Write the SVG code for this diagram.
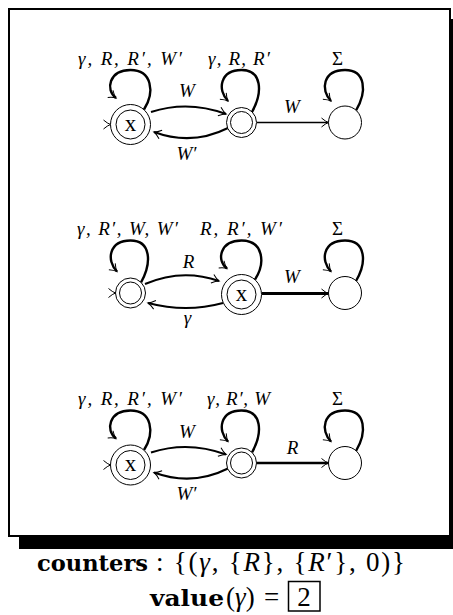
<svg xmlns="http://www.w3.org/2000/svg" width="453" height="615" viewBox="0 0 453 615">
<style>
.st{fill:#fff;stroke:#000;stroke-width:1}
.loop{fill:none;stroke:#000;stroke-width:2.4;marker-end:url(#ah)}
.ed{fill:none;stroke:#000;stroke-width:2;marker-end:url(#ah)}
.tip{fill:none;stroke:#000;stroke-width:1}
.lb{font-family:"Liberation Serif","DejaVu Serif",serif;font-style:italic;font-size:19px;fill:#000}
.up{font-family:"Liberation Serif","DejaVu Serif",serif;font-size:19px;fill:#000}
.xl{font-family:"Liberation Serif","DejaVu Serif",serif;font-size:23px;fill:#000}
.bb{font-family:"DejaVu Serif","Liberation Serif",serif;font-weight:bold;font-size:23px;fill:#000}
.mr{font-family:"Liberation Serif","DejaVu Serif",serif;font-size:27px;fill:#000}
.mi{font-style:italic}
</style>
<defs>
<marker id="ah" markerUnits="userSpaceOnUse" viewBox="-8 -6 10 12" markerWidth="10" markerHeight="12" refX="0" refY="0" orient="auto">
<path d="M-7,-4.5 Q-3,-1 0,0 Q-3,1 -7,4.5" fill="none" stroke="#000" stroke-width="1"/>
</marker>
</defs>
<g id="frame">
<rect x="19" y="537" width="434" height="12" fill="#000"/>
<rect x="451" y="19" width="10" height="530" fill="#000"/>
<rect x="9" y="9" width="441" height="527" fill="#fff" stroke="#000" stroke-width="2"/>
</g>
<g id="connectors">
<path class="loop" d="M144,109.5 C155,92 152,70 130.5,70 C109,70 105,90 116,98"/>
<path class="loop" d="M252,112 C263,92 262,70 241.5,70 C220,70 217,90 228,101"/>
<path class="loop" d="M356,110.5 C367,92 366,70 345,70 C323,70 320,90 331,101"/>
<path class="ed" d="M151,112 Q188,100 226,114"/>
<path class="ed" d="M228,128 Q192,146 154,132"/>
<path class="ed" style="stroke-width:1.4" d="M257,122.5 L328.5,122.5"/>
<path class="tip" d="M103.5,120 Q107.5,123.5 110.5,124.5 Q107.5,125.5 103.5,129"/>
<path class="loop" d="M141,282.5 C152,262.5 151,240.5 130.5,240.5 C109,240.5 106,260.5 117,271.5"/>
<path class="loop" d="M255,279.5 C266,262.5 263,240.5 241.5,240.5 C220,240.5 216,260.5 227,268.5"/>
<path class="loop" d="M356,281 C367,262.5 366,240.5 345,240.5 C323,240.5 320,260.5 331,271.5"/>
<path class="ed" d="M145,284 Q182,268 219,281"/>
<path class="ed" d="M223,303 Q186,313 148,303"/>
<path class="ed" style="stroke-width:2.8" d="M262,293.5 L328.5,293.5"/>
<path class="tip" d="M108.5,288.5 Q112.5,292 115.5,293 Q112.5,294 108.5,297.5"/>
<path class="loop" d="M144,450 C155,432.5 152,410.5 130.5,410.5 C109,410.5 105,430.5 116,438.5"/>
<path class="loop" d="M252,452.5 C263,432.5 262,410.5 241.5,410.5 C220,410.5 217,430.5 228,441.5"/>
<path class="loop" d="M356,451 C367,432.5 366,410.5 345,410.5 C323,410.5 320,430.5 331,441.5"/>
<path class="ed" d="M151,452.5 Q188,440.5 226,454.5"/>
<path class="ed" d="M228,468.5 Q192,486.5 154,472.5"/>
<path class="ed" style="stroke-width:2.6" d="M257,463 L328.5,463"/>
<path class="tip" d="M103.5,460.5 Q107.5,464 110.5,465 Q107.5,466 103.5,469.5"/>
</g>
<g id="r1n1"><circle class="st" cx="130.5" cy="124.5" r="20"/><circle class="st" cx="130.5" cy="124.5" r="14.5"/><text class="xl" x="130.5" y="130.5" text-anchor="middle">x</text></g>
<g id="r1n2"><circle class="st" cx="241.5" cy="122.5" r="15"/><circle class="st" cx="241.5" cy="122.5" r="11"/></g>
<g id="r1n3"><circle class="st" cx="345" cy="122.5" r="16.5"/></g>
<g id="r2n1"><circle class="st" cx="130.5" cy="293" r="15"/><circle class="st" cx="130.5" cy="293" r="11"/></g>
<g id="r2n2"><circle class="st" cx="241.5" cy="294.5" r="20"/><circle class="st" cx="241.5" cy="294.5" r="14.5"/><text class="xl" x="241.5" y="300.5" text-anchor="middle">x</text></g>
<g id="r2n3"><circle class="st" cx="345" cy="293" r="16.5"/></g>
<g id="r3n1"><circle class="st" cx="130.5" cy="465" r="20"/><circle class="st" cx="130.5" cy="465" r="14.5"/><text class="xl" x="130.5" y="471" text-anchor="middle">x</text></g>
<g id="r3n2"><circle class="st" cx="241.5" cy="463" r="15"/><circle class="st" cx="241.5" cy="463" r="11"/></g>
<g id="r3n3"><circle class="st" cx="345" cy="463" r="16.5"/></g>
<g id="labels">
<text class="lb" x="78" y="65" textLength="104" lengthAdjust="spacing">γ, R, R′, W′</text>
<text class="lb" x="208" y="65" textLength="62" lengthAdjust="spacing">γ, R, R′</text>
<text class="up" x="337.5" y="65" text-anchor="middle">Σ</text>
<text class="lb" x="187" y="97" text-anchor="middle">W</text>
<text class="lb" x="186.5" y="160" text-anchor="middle">W′</text>
<text class="lb" x="292" y="113" text-anchor="middle">W</text>
<text class="lb" x="77" y="235" textLength="101" lengthAdjust="spacing">γ, R′, W, W′</text>
<text class="lb" x="200" y="235" textLength="82" lengthAdjust="spacing">R, R′, W′</text>
<text class="up" x="337.5" y="235" text-anchor="middle">Σ</text>
<text class="lb" x="188.5" y="268" text-anchor="middle">R</text>
<text class="lb" x="187.5" y="324" text-anchor="middle">γ</text>
<text class="lb" x="292" y="283" text-anchor="middle">W</text>
<text class="lb" x="78" y="405" textLength="104" lengthAdjust="spacing">γ, R, R′, W′</text>
<text class="lb" x="207" y="405" textLength="63" lengthAdjust="spacing">γ, R′, W</text>
<text class="up" x="337.5" y="405" text-anchor="middle">Σ</text>
<text class="lb" x="187" y="438" text-anchor="middle">W</text>
<text class="lb" x="186.5" y="500" text-anchor="middle">W′</text>
<text class="lb" x="292.5" y="454" text-anchor="middle">R</text>
</g>
<g id="caption">
<text class="bb" x="37" y="571" textLength="111" lengthAdjust="spacingAndGlyphs">counters</text>
<text class="mr" x="156" y="571" textLength="249" lengthAdjust="spacing">: {(<tspan class="mi">γ</tspan>, {<tspan class="mi">R</tspan>}, {<tspan class="mi">R</tspan>′}, 0)}</text>
<text class="bb" x="150" y="606" textLength="74" lengthAdjust="spacingAndGlyphs">value</text>
<text class="mr" x="226" y="606">(<tspan class="mi">γ</tspan>)</text>
<text class="mr" x="271.5" y="606" text-anchor="middle">=</text>
<rect x="288.5" y="581.5" width="31.5" height="29.5" fill="none" stroke="#000" stroke-width="1.5"/>
<text class="mr" x="304" y="606" text-anchor="middle">2</text>
</g>
</svg>
